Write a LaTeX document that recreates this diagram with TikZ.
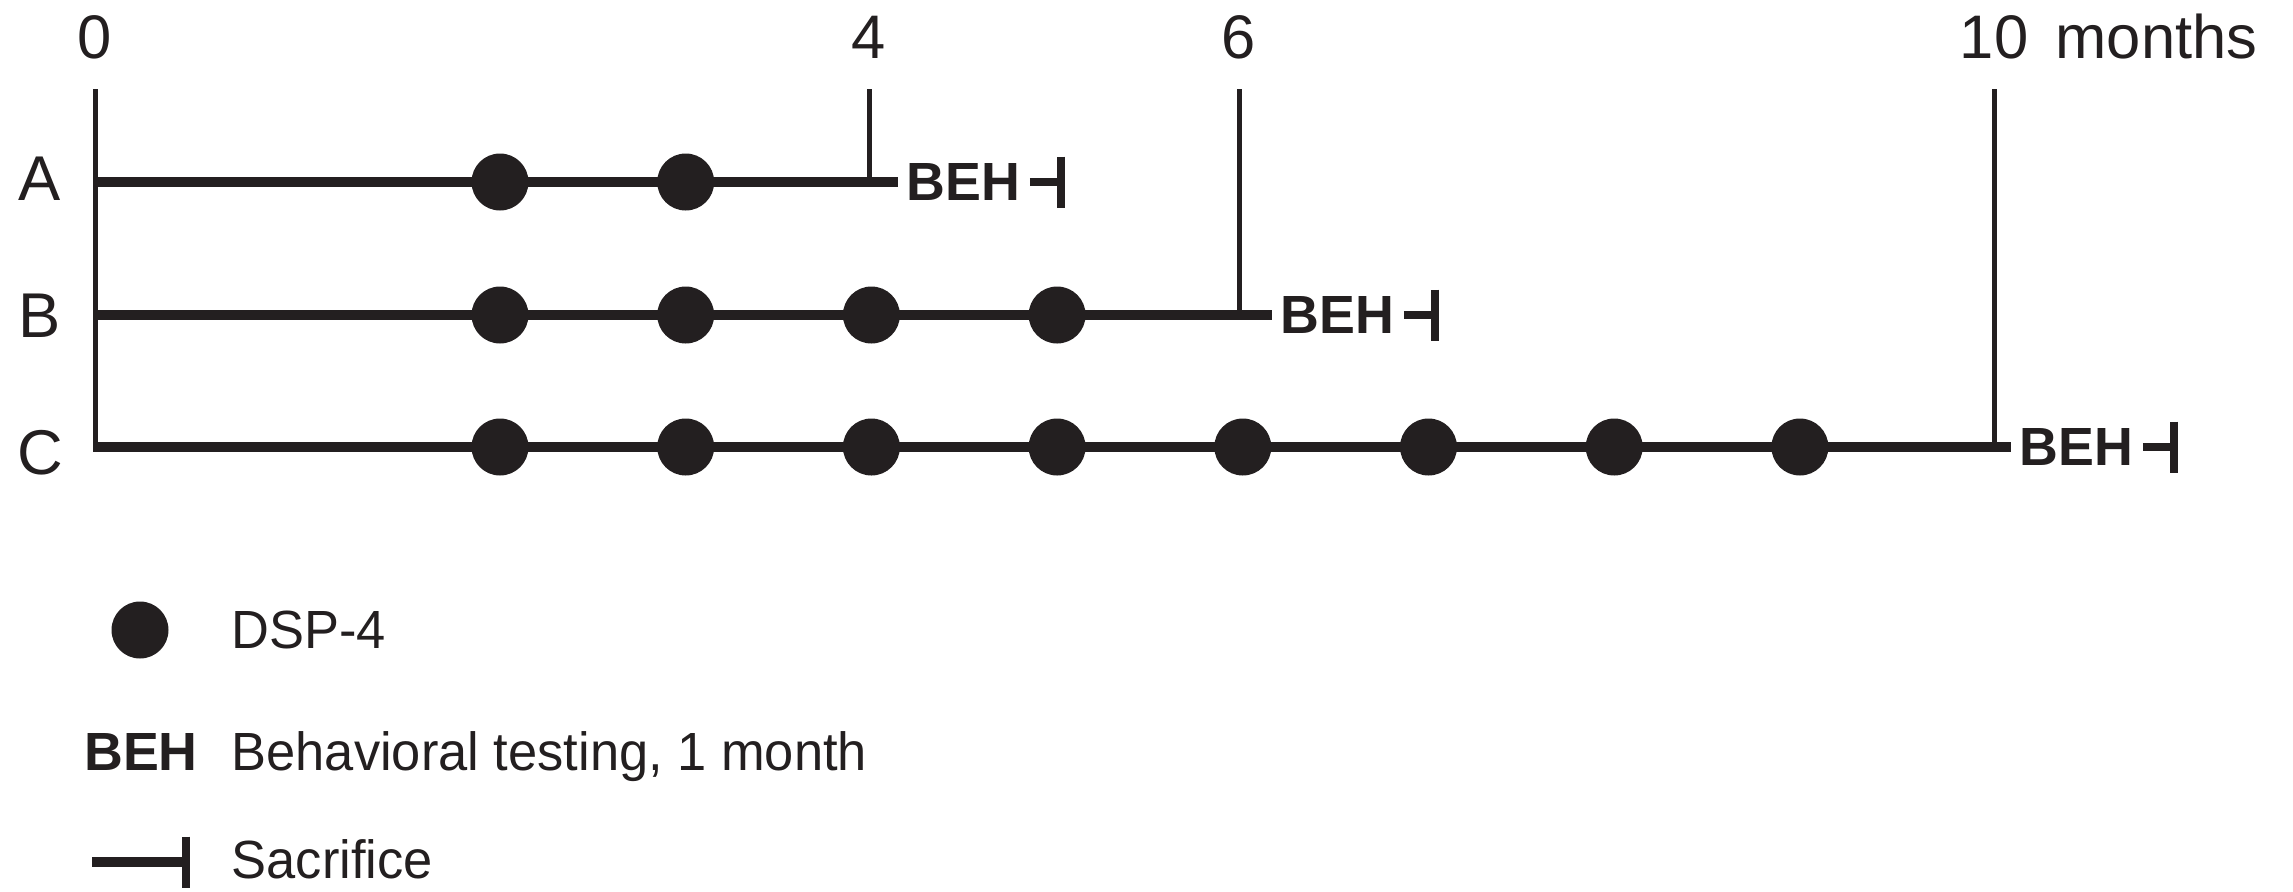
\documentclass[tikz,border=0pt]{standalone}
\usepackage{fontspec}
\setmainfont{Liberation Sans}
\newfontfamily\keyfont{Liberation Sans}[FakeStretch=0.975]
\usetikzlibrary{positioning}
\definecolor{ink}{RGB}{35,31,32}

\begin{document}
\begin{tikzpicture}[
  color=ink,text=ink,node distance=0.8mm,
  row/.style={line width=1mm},
  tick/.style={line width=0.5mm},
  dose/.style={circle,fill=ink,inner sep=0pt,minimum size=5.7mm},
  beh/.style={font=\fontsize{15.3}{18}\selectfont\bfseries,inner sep=0pt},
  sacr/.style={line width=0.8mm},
  month/.style={font=\fontsize{17.5}{20}\selectfont,inner sep=0pt,anchor=base},
  grp/.style={font=\fontsize{18}{21}\selectfont,inner sep=0pt,anchor=base},
  key/.style={font=\keyfont\fontsize{15.3}{18}\selectfont,inner sep=0pt,anchor=base west}]
\useasboundingbox (0,0) rectangle (22.93,8.91);
% time axis
\node[month] (m0) at (0.95,8.33) {0};
\node[month] (m4) at (8.69,8.33) {4};
\node[month] (m6) at (12.39,8.33) {6};
\node[month] (m10) at (19.94,8.33) {10};
\node[month,base right=2.6mm of m10] (unit) {months};
\coordinate (top0) at (0.95,8.02);
\coordinate (top4) at (8.69,8.02);
\coordinate (top6) at (12.39,8.02);
\coordinate (top10) at (19.94,8.02);
% groups
\coordinate (a0) at (0.93,7.09); \coordinate (a4) at (8.69,7.09); \coordinate (a1) at (8.98,7.09);
\coordinate (b0) at (0.93,5.76); \coordinate (b6) at (12.39,5.76); \coordinate (b1) at (12.72,5.76);
\coordinate (c0) at (0.93,4.44); \coordinate (c10) at (19.94,4.44); \coordinate (c1) at (20.11,4.44);
\node[grp] (ga) at (0.40,6.91) {A};
\node[grp] (gb) at (0.40,5.54) {B};
\node[grp] (gc) at (0.40,4.17) {C};
\draw[tick] (top0) -- ([yshift=-0.5mm]0.95,4.44);
\draw[tick] (top4) -- (a4);
\draw[tick] (top6) -- (b6);
\draw[tick] (top10) -- (c10);
\draw[row] (a0) -- (a1);
\draw[row] (b0) -- (b1);
\draw[row] (c0) -- (c1);
\foreach \r/\y/\n in {a/7.09/1,b/5.76/3,c/4.44/7}
  \foreach \i in {0,...,\n}
    \node[dose] (d\r\i) at ({5.00+1.857*\i},\y) {};
% testing and sacrifice
\node[beh,right=of a1] (behA) {BEH};
\node[beh,right=of b1] (behB) {BEH};
\node[beh,right=of c1] (behC) {BEH};
\draw[sacr] ([xshift=0.9mm]behA.east) -- ++(3.1mm,0) coordinate (endA);
\draw[sacr] ([xshift=0.9mm]behB.east) -- ++(3.1mm,0) coordinate (endB);
\draw[sacr] ([xshift=0.9mm]behC.east) -- ++(3.1mm,0) coordinate (endC);
\draw[sacr] ([yshift=2.55mm]endA) -- ([yshift=-2.55mm]endA);
\draw[sacr] ([yshift=2.55mm]endB) -- ([yshift=-2.55mm]endB);
\draw[sacr] ([yshift=2.55mm]endC) -- ([yshift=-2.55mm]endC);
% legend
\node[dose] (kdot) at (1.40,2.61) {};
\node[key] (kdsp) at (2.31,2.43) {DSP-4};
\node[beh,anchor=base] (kbeh) at (1.41,1.21) {BEH};
\node[key] (kbehtxt) at (2.31,1.21) {Behavioral testing, 1 month};
\coordinate (ks0) at (0.92,0.29);
\coordinate (ks1) at (1.86,0.29);
\draw[row] (ks0) -- (ks1);
\draw[sacr] ([yshift=2.55mm]ks1) -- ([yshift=-2.55mm]ks1);
\node[key] (ksac) at (2.31,0.13) {Sacrifice};
\end{tikzpicture}
\end{document}
